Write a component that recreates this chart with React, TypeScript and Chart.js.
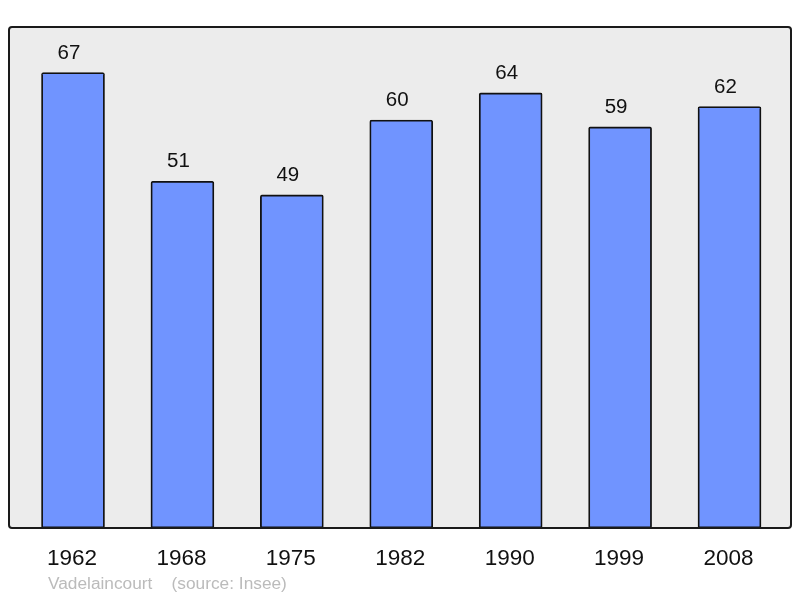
import React, { useEffect, useRef } from "react";
import { Chart, registerables } from "chart.js";

Chart.register(...registerables);

const years = ["1962", "1968", "1975", "1982", "1990", "1999", "2008"];
const population = [67, 51, 49, 60, 64, 59, 62];
const footnote = "Vadelaincourt    (source: Insee)";

const FONT = "'Liberation Sans', Arial, sans-serif";

export default function App() {
  const ref = useRef<HTMLCanvasElement | null>(null);

  useEffect(() => {
    document.body.style.margin = "0";
    const canvas = ref.current;
    if (!canvas) return;

    const boxPlugin = {
      id: "boxPlugin",
      beforeDraw(chart: any) {
        const { ctx, chartArea: a } = chart;
        ctx.save();
        ctx.fillStyle = "#ececec";
        ctx.beginPath();
        ctx.roundRect(a.left, a.top, a.right - a.left, a.bottom - a.top, 3);
        ctx.fill();
        ctx.restore();
      },
      afterDatasetsDraw(chart: any) {
        const { ctx, chartArea: a, scales } = chart;
        ctx.save();
        ctx.strokeStyle = "#1a1a1a";
        ctx.lineWidth = 2;
        ctx.beginPath();
        ctx.roundRect(a.left, a.top, a.right - a.left, a.bottom - a.top, 3);
        ctx.stroke();

        // value labels
        const meta = chart.getDatasetMeta(0);
        ctx.fillStyle = "#111";
        ctx.font = `20.5px ${FONT}`;
        ctx.textAlign = "center";
        ctx.textBaseline = "alphabetic";
        meta.data.forEach((el: any, i: number) => {
          ctx.fillText(String(population[i]), el.x - 4, el.y - 14);
        });

        // year labels
        ctx.font = `22.5px ${FONT}`;
        years.forEach((y, i) => {
          const x = scales.x.getPixelForValue(i);
          ctx.fillText(y, x - 1, a.bottom + 37);
        });

        // footnote
        ctx.font = `17.3px ${FONT}`;
        ctx.fillStyle = "#bbbbbb";
        ctx.textAlign = "left";
        ctx.fillText(footnote, 48, a.bottom + 61);
        ctx.restore();
      },
    };

    const chart = new Chart(canvas, {
      type: "bar",
      data: {
        datasets: [
          {
            data: population.map((v, i) => ({ x: i, y: v })),
            backgroundColor: "#7094ff",
            borderColor: "#111111",
            borderWidth: 1.8,
            borderRadius: 2,
            borderSkipped: false,
            barThickness: 63,
          },
        ],
      },
      options: {
        animation: false,
        responsive: false,
        maintainAspectRatio: false,
        layout: { padding: { left: 9, right: 9, top: 27, bottom: 70 } },
        plugins: { legend: { display: false }, tooltip: { enabled: false } },
        scales: {
          x: { type: "linear", offset: false, min: -0.585, max: 6.562, display: false },
          y: { min: 0, max: 73.7, display: false },
        },
      },
      plugins: [boxPlugin],
    });

    return () => chart.destroy();
  }, []);

  return <canvas ref={ref} width={800} height={598} style={{ display: "block" }} />;
}
